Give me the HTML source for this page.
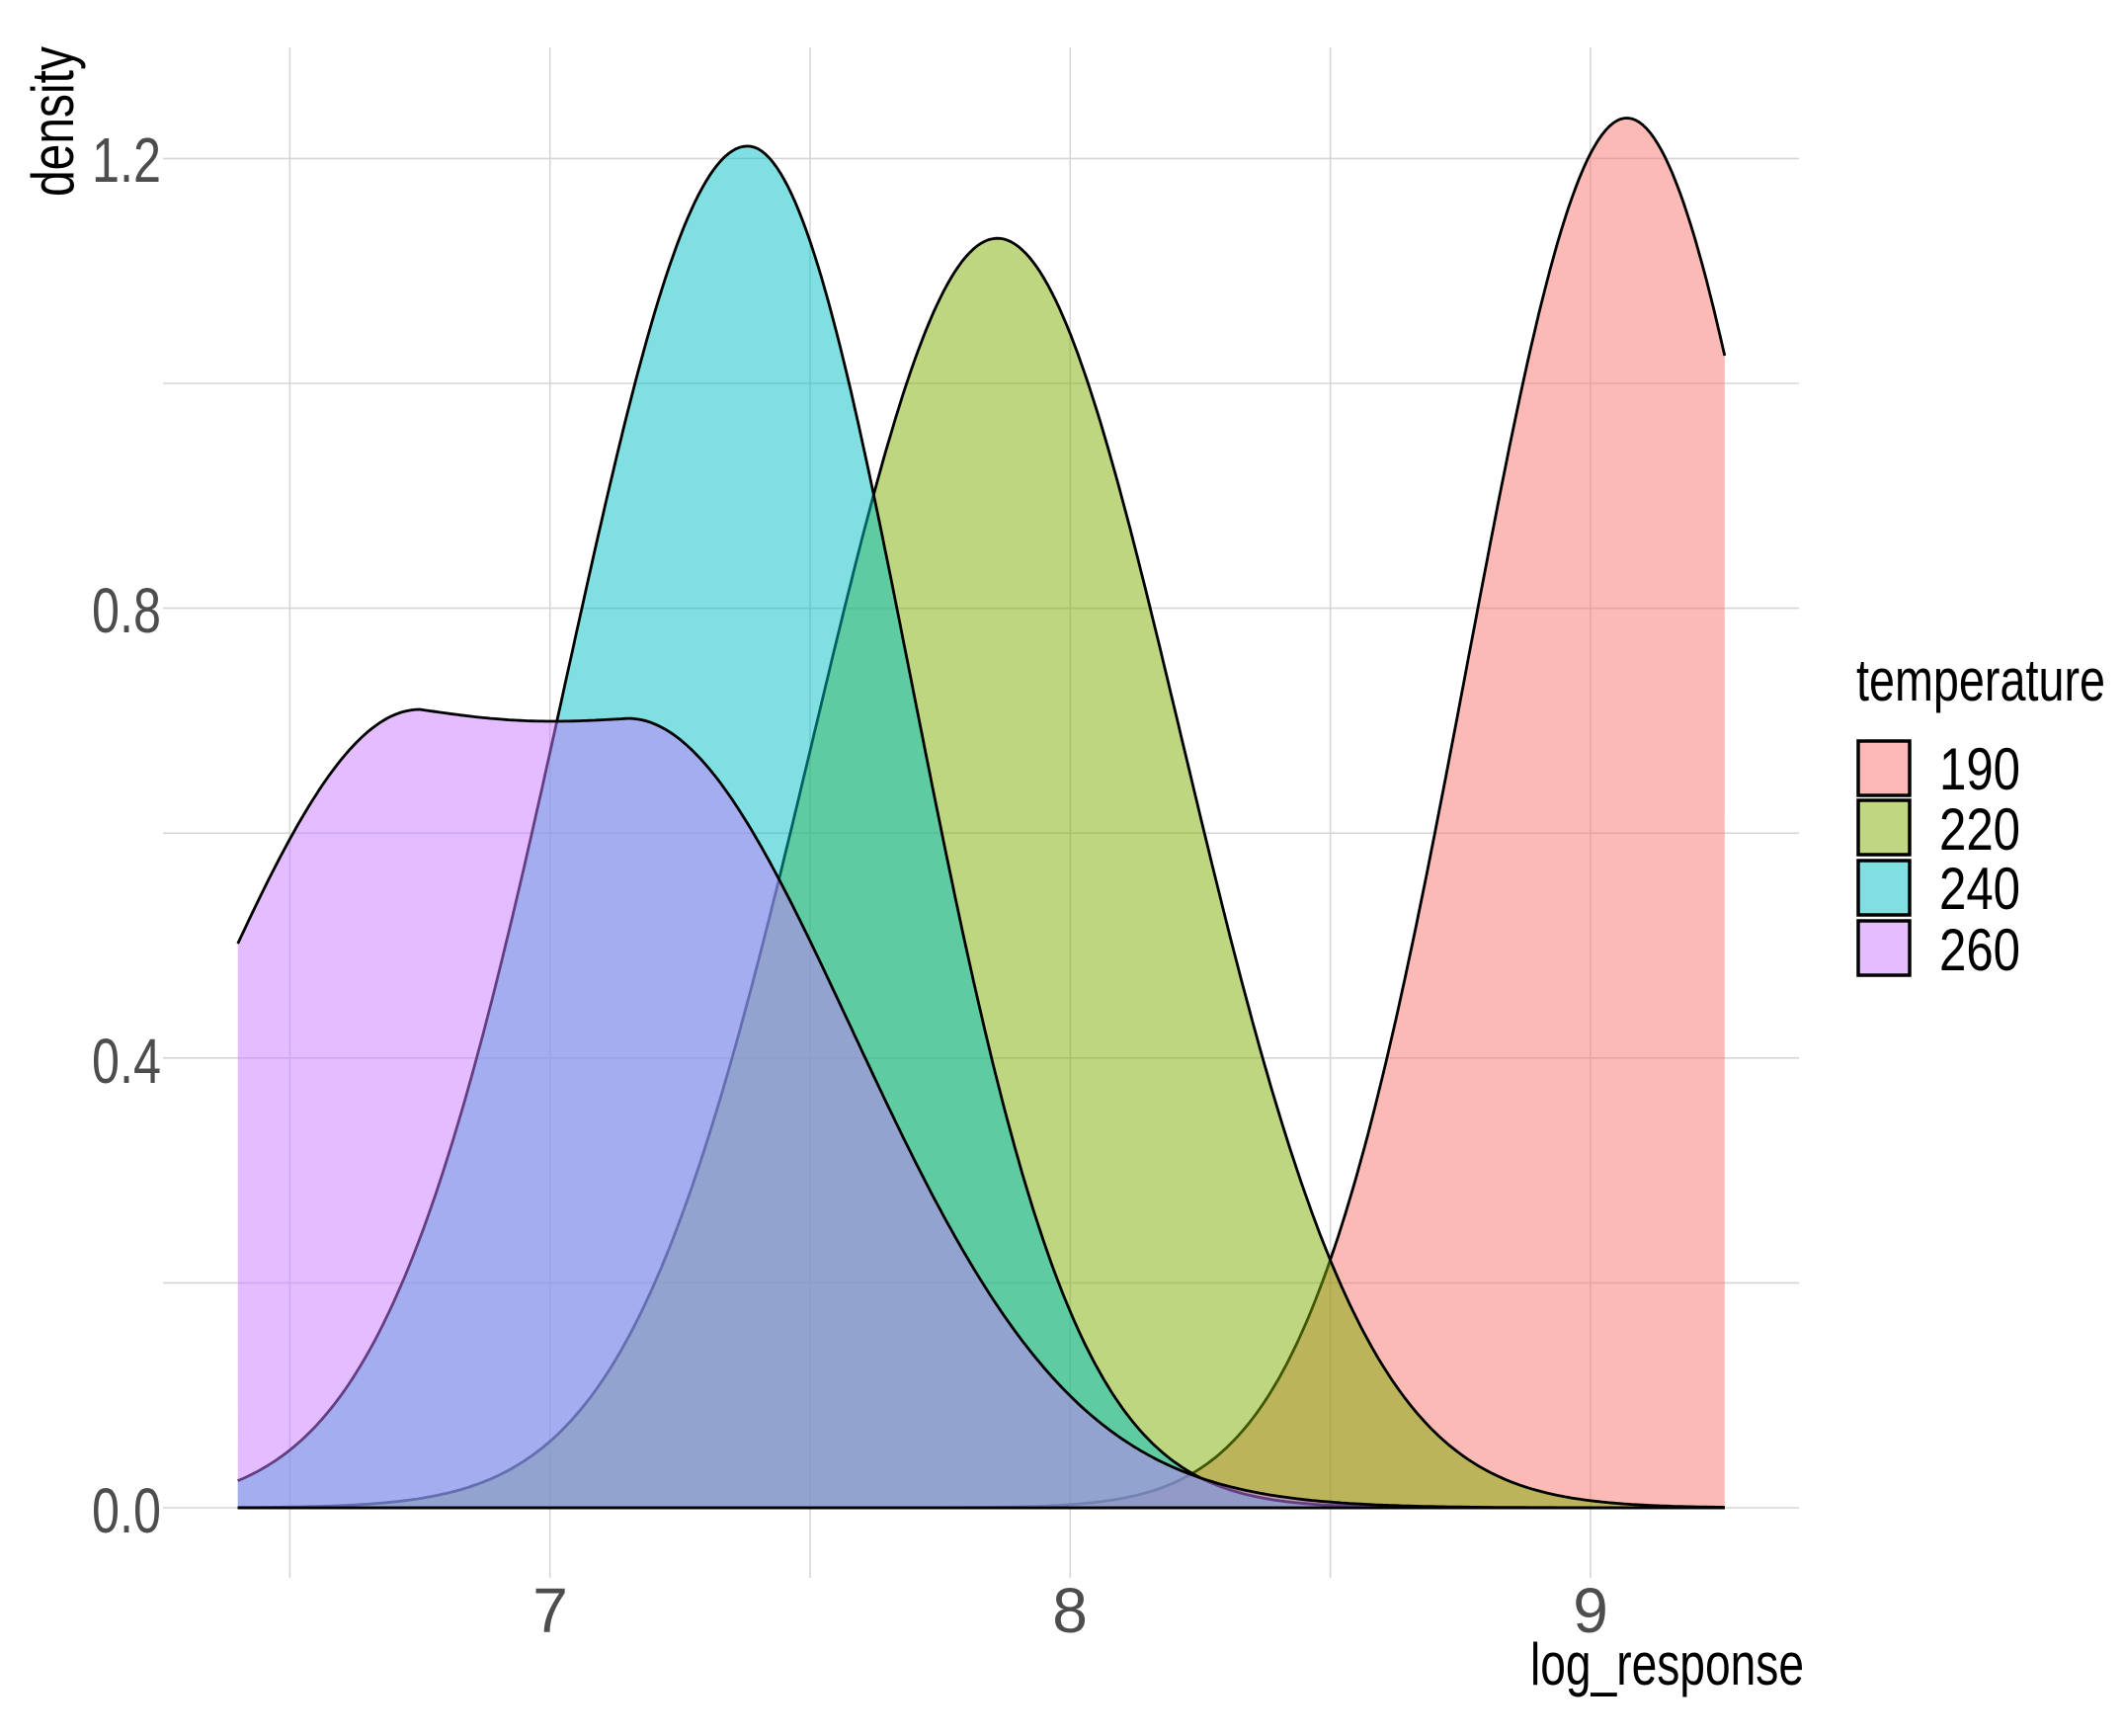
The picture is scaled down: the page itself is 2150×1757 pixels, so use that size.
<!DOCTYPE html>
<html><head><meta charset="utf-8"><style>
html,body{margin:0;padding:0;background:#fff;}
svg{display:block;}
text{font-family:"Liberation Sans",sans-serif;}
</style></head><body>
<svg id="s" width="2150" height="1757" viewBox="0 0 2150 1757" xmlns="http://www.w3.org/2000/svg">
<g id="grid" stroke="#d6d6d6" stroke-width="1.6" fill="none"></g>
<g id="curves"></g>
<g fill="#4d4d4d" font-size="64">
<text x="93" y="184" textLength="70" lengthAdjust="spacingAndGlyphs">1.2</text>
<text x="93" y="640" textLength="70" lengthAdjust="spacingAndGlyphs">0.8</text>
<text x="93" y="1096" textLength="70" lengthAdjust="spacingAndGlyphs">0.4</text>
<text x="93" y="1551" textLength="70" lengthAdjust="spacingAndGlyphs">0.0</text>
<text x="557" y="1652" text-anchor="middle">7</text>
<text x="1083" y="1652" text-anchor="middle">8</text>
<text x="1610" y="1652" text-anchor="middle">9</text>
</g>
<g fill="#000" font-size="60">
<text x="1549" y="1705" textLength="277" lengthAdjust="spacingAndGlyphs">log_response</text>
<text transform="translate(74,199) rotate(-90)" textLength="152" lengthAdjust="spacingAndGlyphs">density</text>
<text x="1879" y="709" textLength="252" lengthAdjust="spacingAndGlyphs">temperature</text>
<text x="1963" y="799" textLength="82" lengthAdjust="spacingAndGlyphs">190</text>
<text x="1963" y="860" textLength="82" lengthAdjust="spacingAndGlyphs">220</text>
<text x="1963" y="920" textLength="82" lengthAdjust="spacingAndGlyphs">240</text>
<text x="1963" y="982" textLength="82" lengthAdjust="spacingAndGlyphs">260</text>
</g>
<g stroke="#000" stroke-width="3.5">
<rect x="1881" y="750" width="52" height="55" fill="#fbb8b4"/>
<rect x="1881" y="810" width="52" height="55" fill="#c0d680"/>
<rect x="1881" y="871" width="52" height="55" fill="#80dfe1"/>
<rect x="1881" y="932" width="52" height="55" fill="#e3bdff"/>
</g>
</svg>
<script>
var X=function(v){return 556.7+(v-7)*526.6;};
var Y=function(d){return 1526-d*1138;};
var g=document.getElementById('grid'),ns="http://www.w3.org/2000/svg";
function line(x1,y1,x2,y2){var l=document.createElementNS(ns,'line');l.setAttribute('x1',x1);l.setAttribute('y1',y1);l.setAttribute('x2',x2);l.setAttribute('y2',y2);g.appendChild(l);}
[6.5,7,7.5,8,8.5,9].forEach(function(v){line(X(v),48,X(v),1597);});
[0,0.2,0.4,0.6,0.8,1.0,1.2].forEach(function(v){line(165,Y(v),1821,Y(v));});
function gauss2(m,sl,sr,p){return function(x){var s=x<m?sl:sr;return p*Math.exp(-(x-m)*(x-m)/(2*s*s));};}
var f190=gauss2(9.07,0.307,0.307,1.236),f220=gauss2(7.86,0.354,0.354,1.129),f240=gauss2(7.38,0.35,0.315,1.211);
function f260(x){
 if(x<=6.75) return 0.71*Math.exp(-(x-6.75)*(x-6.75)/(2*0.42*0.42));
 if(x<=7.15){var t=(x-6.75)/0.4;return 0.71-0.008*t-0.006*Math.sin(Math.PI*t);}
 return 0.702*Math.exp(-(x-7.15)*(x-7.15)/(2*0.43*0.43));
}
var series=[[f190,'#F8766D'],[f220,'#7CAE00'],[f240,'#00BFC4'],[f260,'#C77CFF']];
var c=document.getElementById('curves');
var x0=6.4,x1=9.258,N=400;
series.forEach(function(s){
 var pts=[];for(var i=0;i<=N;i++){var x=x0+(x1-x0)*i/N;pts.push(X(x).toFixed(1)+','+Y(s[0](x)).toFixed(1));}
 var fill=document.createElementNS(ns,'path');
 fill.setAttribute('d','M'+X(x0)+','+Y(0)+' L'+pts.join(' L')+' L'+X(x1)+','+Y(0)+' Z');
 fill.setAttribute('fill',s[1]);fill.setAttribute('fill-opacity','0.5');c.appendChild(fill);
 var ln=document.createElementNS(ns,'path');
 ln.setAttribute('d','M'+X(x0)+','+Y(0)+' L'+X(x1)+','+Y(0)+' M'+pts.join(' L'));
 ln.setAttribute('fill','none');ln.setAttribute('stroke','#000');ln.setAttribute('stroke-width','2.8');c.appendChild(ln);
});
</script>
</body></html>
